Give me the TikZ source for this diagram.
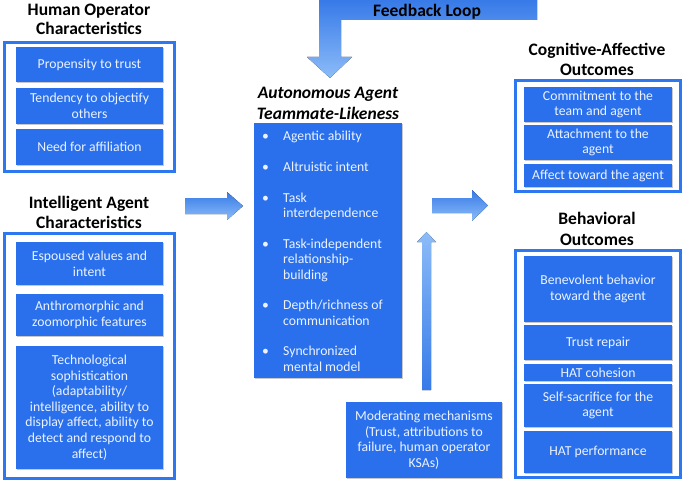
\documentclass[tikz,border=0pt]{standalone}
\usepackage{fontspec}
\setmainfont{Carlito}
\usetikzlibrary{shadows}
\definecolor{boxblue}{RGB}{42,112,236}
\definecolor{edgeblue}{RGB}{45,120,240}
\definecolor{arrdark}{RGB}{55,122,232}
\definecolor{arrlight}{RGB}{140,188,248}
\definecolor{boxtext}{RGB}{236,243,255}
\tikzset{
  boxshadow/.style={drop shadow={shadow xshift=1pt, shadow yshift=-1.2pt, opacity=0.3, fill=black!70}},
  itembox/.style={fill=boxblue, text=boxtext, font=\fontsize{13.7}{15.6}\selectfont, align=center, inner sep=0pt, minimum width=147pt, boxshadow},
  groupbox/.style={draw=edgeblue, line width=2.6pt, fill=white},
  heading/.style={font=\fontsize{17.5}{19.5}\selectfont\bfseries, align=center, inner sep=0pt},
  blockarrow/.style={draw=none, top color=arrdark, bottom color=arrlight},
  uparrow/.style={draw=none, top color=arrlight, bottom color=arrdark},
}
\newcommand{\bul}{\makebox[21pt][l]{\textbullet}}
\newcommand{\ind}{\hspace*{21pt}}
\begin{document}
\begin{tikzpicture}[x=1pt,y=-1pt]
\useasboundingbox (0,0) rectangle (685,484);

% ---------- left column ----------
\node[heading] (hoh) at (89,19.5) {Human Operator\\Characteristics};
\draw[groupbox] (4.3,42.3) rectangle (174.7,171.7);
\node[itembox, minimum height=35pt] (ho1) at (89.5,64.5) {Propensity to trust};
\node[itembox, minimum height=36pt] (ho2) at (89.5,106) {Tendency to objectify\\others};
\node[itembox, minimum height=36pt] (ho3) at (89.5,147) {Need for affiliation};

\node[heading] (iah) at (89,212.5) {Intelligent Agent\\Characteristics};
\draw[groupbox] (4.3,233.3) rectangle (174.7,478.7);
\node[itembox, minimum height=43pt] (ia1) at (89.5,263.5) {Espoused values and\\intent};
\node[itembox, minimum height=42pt] (ia2) at (89.5,315) {Anthromorphic and\\zoomorphic features};
\node[itembox, minimum height=123pt] (ia3) at (89.5,407.5) {Technological\\sophistication\\(adaptability/\\intelligence, ability to\\display affect, ability to\\detect and respond to\\affect)};

% ---------- centre ----------
\node[heading, font=\fontsize{17.5}{21}\selectfont\bfseries\itshape] (tlh) at (328,103.5) {Autonomous Agent\\Teammate-Likeness};
\node[fill=boxblue, minimum width=148pt, minimum height=255pt, inner sep=0pt, boxshadow] (tl) at (328,250.5) {};
\node[anchor=north west, inner sep=0pt, text=boxtext, align=left, font=\fontsize{13.7}{15.3}\selectfont] (tlist) at (262,131)
{\bul Agentic ability\\[15.5pt]
 \bul Altruistic intent\\[15.5pt]
 \bul Task\\
 \ind interdependence\\[15.5pt]
 \bul Task-independent\\
 \ind relationship-\\
 \ind building\\[15.5pt]
 \bul Depth/richness of\\
 \ind communication\\[15.5pt]
 \bul Synchronized\\
 \ind mental model};

\node[itembox, minimum width=156pt, minimum height=76pt] (mod) at (424,440) {Moderating mechanisms\\(Trust, attributions to\\failure, human operator\\KSAs)};

% ---------- right column ----------
\node[heading] (cah) at (597,59.5) {Cognitive-Affective\\Outcomes};
\draw[groupbox] (515.3,80.3) rectangle (680.7,191.7);
\node[itembox, minimum width=148pt, minimum height=35pt] (ca1) at (598,104.5) {Commitment to the\\team and agent};
\node[itembox, minimum width=148pt, minimum height=35pt] (ca2) at (598,142.5) {Attachment to the\\agent};
\node[itembox, minimum width=148pt, minimum height=23pt] (ca3) at (598,175.5) {Affect toward the agent};

\node[heading, font=\fontsize{17.5}{21}\selectfont\bfseries] (bh) at (597,228.5) {Behavioral\\Outcomes};
\draw[groupbox] (515.3,250.3) rectangle (680.7,477.7);
\node[itembox, minimum width=148pt, minimum height=66pt] (b1) at (598,289) {Benevolent behavior\\toward the agent};
\node[itembox, minimum width=148pt, minimum height=35pt] (b2) at (598,342.5) {Trust repair};
\node[itembox, minimum width=148pt, minimum height=17pt] (b3) at (598,372.5) {HAT cohesion};
\node[itembox, minimum width=148pt, minimum height=43pt] (b4) at (598,405.5) {Self-sacrifice for the\\agent};
\node[itembox, minimum width=148pt, minimum height=42pt] (b5) at (598,452) {HAT performance};

% ---------- block arrows ----------
\fill[blockarrow] (185,198) -- (227,198) -- (227,192) -- (243,206) -- (227,220) -- (227,214) -- (185,214) -- cycle;
\fill[blockarrow] (432,198) -- (472,198) -- (472,190) -- (488,205.5) -- (472,221) -- (472,213) -- (432,213) -- cycle;
\fill[uparrow] (422,390) -- (422,242) -- (417,242) -- (426.5,232) -- (436,242) -- (431,242) -- (431,390) -- cycle;
\fill[blockarrow] (319,0) -- (537,0) -- (537,20) -- (341,20) -- (341,57) -- (352,57) -- (330,78) -- (307,57) -- (319,57) -- cycle;
\node[font=\fontsize{17.5}{19}\selectfont\bfseries, inner sep=0pt] (fb) at (427,12) {Feedback Loop};
\end{tikzpicture}
\end{document}
